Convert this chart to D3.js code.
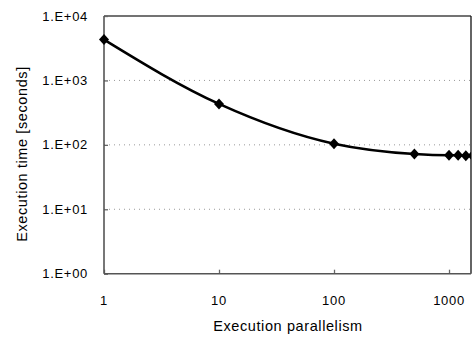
<!DOCTYPE html>
<html>
<head>
<meta charset="utf-8">
<script src="https://cdn.jsdelivr.net/npm/d3@7"></script>
<style>
  body { margin: 0; background: #fff; }
  svg { display: block; font-family: "Liberation Sans", Arial, sans-serif; }
</style>
</head>
<body>
<svg id="chart" width="473" height="340"></svg>
<script>
// Execution time vs. parallelism (log-log)
const parallelism = [1, 10, 100, 500, 1000, 1200, 1400, 1600];
const execSeconds = [4300, 432, 104, 72, 69, 69, 68, 68];
const yTickValues = [1, 10, 100, 1000, 10000];
const yTickLabels = ["1.E+00", "1.E+01", "1.E+02", "1.E+03", "1.E+04"];
const xTickValues = [1, 10, 100, 1000];
const xTickLabels = ["1", "10", "100", "1000"];

const svg = d3.select("#chart");
const m = { left: 104, top: 16, right: 471, bottom: 273.7 };

const x = d3.scaleLog().domain([1, 1553]).range([m.left, m.right]);
const y = d3.scaleLog().domain([1, 10000]).range([m.bottom, m.top]);

// horizontal dotted gridlines
svg.append("g").selectAll("line")
  .data(yTickValues.slice(1, 4))
  .join("line")
  .attr("x1", m.left).attr("x2", m.right)
  .attr("y1", d => y(d)).attr("y2", d => y(d))
  .attr("stroke", "#999").attr("stroke-width", 1)
  .attr("stroke-dasharray", "1,4");

// top and right frame
svg.append("line").attr("x1", m.left).attr("x2", m.right)
  .attr("y1", m.top).attr("y2", m.top)
  .attr("stroke", "#444").attr("stroke-width", 1.3);
svg.append("line").attr("x1", m.right).attr("x2", m.right)
  .attr("y1", m.top).attr("y2", m.bottom)
  .attr("stroke", "#111").attr("stroke-width", 1.3);

// y axis
const yAxis = d3.axisRight(y).tickValues(yTickValues).tickSize(4).tickFormat(() => "");
const gy = svg.append("g").attr("transform", `translate(${m.left},0)`).call(yAxis);
gy.select(".domain").remove();
gy.selectAll(".tick line").attr("stroke", "#666").attr("stroke-width", 1.3);
svg.append("g").selectAll("text")
  .data(yTickValues)
  .join("text")
  .attr("x", 88).attr("y", d => y(d)).attr("dy", "0.35em")
  .attr("text-anchor", "end")
  .attr("font-size", 13).attr("letter-spacing", 0.7).attr("fill", "#000")
  .text((d, i) => yTickLabels[i]);

// x axis
const xAxis = d3.axisTop(x).tickValues(xTickValues).tickSize(4).tickFormat(() => "");
const gx = svg.append("g").attr("transform", `translate(0,${m.bottom})`).call(xAxis);
gx.select(".domain").remove();
gx.selectAll(".tick line").attr("stroke", "#666").attr("stroke-width", 1.3);
svg.append("g").selectAll("text")
  .data(xTickValues)
  .join("text")
  .attr("x", d => x(d)).attr("y", 305)
  .attr("text-anchor", "middle")
  .attr("font-size", 13).attr("letter-spacing", 0.7).attr("fill", "#000")
  .text((d, i) => xTickLabels[i]);

// left and bottom axis lines
svg.append("line").attr("x1", m.left).attr("x2", m.left)
  .attr("y1", m.top).attr("y2", m.bottom)
  .attr("stroke", "#555").attr("stroke-width", 1.6);
svg.append("line").attr("x1", m.left).attr("x2", m.right)
  .attr("y1", m.bottom).attr("y2", m.bottom)
  .attr("stroke", "#555").attr("stroke-width", 1.6);

// axis titles
svg.append("text")
  .attr("x", 288).attr("y", 331)
  .attr("text-anchor", "middle")
  .attr("font-size", 14.5).attr("letter-spacing", 0.6).attr("fill", "#000")
  .text("Execution parallelism");
svg.append("text")
  .attr("transform", "translate(27,154) rotate(-90)")
  .attr("text-anchor", "middle")
  .attr("font-size", 14.5).attr("letter-spacing", 0.6).attr("fill", "#000")
  .text("Execution time [seconds]");

// series
svg.append("defs").append("clipPath").attr("id", "plotClip")
  .append("rect").attr("x", m.left - 7).attr("y", m.top - 7)
  .attr("width", m.right - m.left + 7).attr("height", m.bottom - m.top + 14);

const pts = parallelism.map((p, i) => [p, execSeconds[i]]);
const plot = svg.append("g").attr("clip-path", "url(#plotClip)");

plot.append("path")
  .datum(pts)
  .attr("fill", "none").attr("stroke", "#000").attr("stroke-width", 2.6)
  .attr("d", d3.line().x(d => x(d[0])).y(d => y(d[1])).curve(d3.curveMonotoneX));

// diamond markers, roughly as wide as tall
const diamond = "M0,-5.5L5,0L0,5.5L-5,0Z";
plot.selectAll("path.marker")
  .data(pts)
  .join("path")
  .attr("class", "marker")
  .attr("transform", d => `translate(${x(d[0])},${y(d[1])})`)
  .attr("d", diamond)
  .attr("fill", "#000");
</script>
</body>
</html>
